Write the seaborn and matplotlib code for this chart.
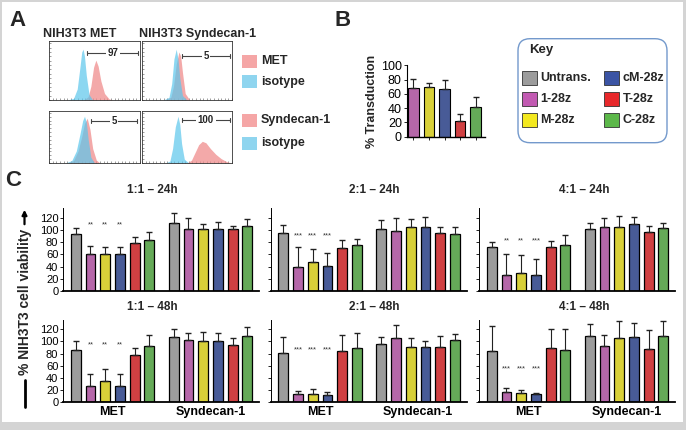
import matplotlib
matplotlib.use('Agg')
import matplotlib.pyplot as plt
from matplotlib.patches import Rectangle, FancyBboxPatch
from matplotlib.ticker import MultipleLocator
import seaborn as sns
import pandas as pd
import numpy as np

sns.set_theme(style='ticks')
plt.rcParams['font.family'] = ['Liberation Sans', 'DejaVu Sans']
plt.rcParams['axes.edgecolor'] = 'black'
plt.rcParams['xtick.color'] = 'black'
plt.rcParams['ytick.color'] = 'black'

# --- Dati ---
car_names = ['Untrans.', '1-28z', 'M-28z', 'cM-28z', 'T-28z', 'C-28z']
car_colors = ['#9c9c9c', '#c25ab2', '#f3e81e', '#3b54a4', '#e8282b', '#5cb84a']

# A: flow histograms (x in 0..1 of the log axis, y relative height)
tl_iso_x = [0.20, 0.27, 0.31, 0.34, 0.36, 0.375, 0.39, 0.41, 0.44, 0.48]
tl_iso_y = [0, 0.03, 0.2, 0.6, 0.88, 0.93, 0.8, 0.45, 0.1, 0]
tl_mk_x = [0.38, 0.43, 0.46, 0.49, 0.515, 0.54, 0.57, 0.61, 0.66, 0.70]
tl_mk_y = [0, 0.06, 0.25, 0.6, 0.73, 0.62, 0.35, 0.12, 0.02, 0]
tr_iso_x = [0.24, 0.30, 0.33, 0.355, 0.38, 0.40, 0.42, 0.45, 0.50]
tr_iso_y = [0, 0.05, 0.3, 0.75, 0.93, 0.75, 0.4, 0.08, 0]
tr_mk_x = [0.26, 0.32, 0.35, 0.38, 0.41, 0.43, 0.45, 0.48, 0.53]
tr_mk_y = [0, 0.05, 0.25, 0.65, 0.88, 0.8, 0.5, 0.12, 0]
bl_iso_x = [0.18, 0.25, 0.30, 0.34, 0.37, 0.39, 0.41, 0.43, 0.46, 0.50]
bl_iso_y = [0, 0.05, 0.25, 0.6, 0.88, 0.97, 0.85, 0.5, 0.12, 0]
bl_mk_x = [0.20, 0.27, 0.32, 0.36, 0.39, 0.42, 0.45, 0.48, 0.52, 0.56]
bl_mk_y = [0, 0.05, 0.25, 0.55, 0.82, 0.93, 0.7, 0.3, 0.06, 0]
br_iso_x = [0.26, 0.31, 0.34, 0.37, 0.40, 0.42, 0.44, 0.47, 0.52]
br_iso_y = [0, 0.04, 0.3, 0.75, 0.97, 0.8, 0.4, 0.08, 0]
br_mk_x = [0.50, 0.55, 0.59, 0.63, 0.67, 0.71, 0.76, 0.82, 0.88, 0.94, 0.99]
br_mk_y = [0, 0.06, 0.22, 0.38, 0.45, 0.42, 0.3, 0.18, 0.09, 0.03, 0]
gate_pct = ['97', '5', '5', '100']

# B: % transduction (solo i CAR)
transduction = [68, 69, 67, 22, 42]
transduction_err = [13, 6, 13, 10, 14]

# C: vitalita', 6 barre su MET poi 6 su Syndecan-1
via_11_24 = [93, 61, 61, 61, 79, 84, 112, 102, 101, 102, 102, 107]
err_11_24 = [10, 13, 11, 11, 10, 12, 15, 18, 8, 11, 5, 11]
via_21_24 = [95, 40, 47, 41, 70, 75, 102, 98, 105, 104, 95, 94]
err_21_24 = [13, 32, 21, 21, 13, 10, 14, 21, 13, 17, 10, 10]
via_41_24 = [72, 27, 30, 27, 72, 76, 102, 105, 104, 110, 96, 103]
err_41_24 = [9, 33, 29, 26, 10, 15, 9, 14, 19, 11, 10, 8]
via_11_48 = [86, 26, 35, 27, 78, 93, 107, 102, 101, 100, 94, 109]
err_11_48 = [14, 20, 20, 20, 11, 17, 13, 12, 15, 14, 11, 14]
via_21_48 = [81, 13, 13, 12, 85, 89, 95, 105, 90, 91, 91, 102]
err_21_48 = [27, 5, 9, 4, 25, 25, 12, 22, 15, 10, 18, 10]
via_41_48 = [85, 16, 15, 13, 89, 86, 109, 92, 105, 107, 87, 109]
err_41_48 = [40, 7, 4, 2, 31, 34, 20, 18, 29, 24, 32, 24]

stars_11_24, star_y_11_24 = ['**', '**', '**'], 108
stars_21_24, star_y_21_24 = ['***', '***', '***'], 90
stars_41_24, star_y_41_24 = ['**', '**', '***'], 82
stars_11_48, star_y_11_48 = ['**', '**', '**'], 94
stars_21_48, star_y_21_48 = ['***', '***', '***'], 86
stars_41_48, star_y_41_48 = ['***', '***', '***'], 54

# --- Figura (coordinate in pixel dall'alto a sinistra) ---
W, H = 686, 430
fig = plt.figure(figsize=(W / 100, H / 100), dpi=100)
fig.patch.set_facecolor('#d4d4d4')
inch = fig.dpi_scale_trans


def rect(x0, y0, x1, y1):
    return [x0 / W, 1 - y1 / H, (x1 - x0) / W, (y1 - y0) / H]


def px(x, y):
    return (x / 100, (H - y) / 100)


fig.add_artist(Rectangle(px(2, 422), 6.81, 4.20, transform=inch,
                         facecolor='white', edgecolor='none', zorder=-10))

for lab, (x, y) in zip('ABC', [(17.5, 20.5), (343, 21), (13, 180)]):
    fig.text(*px(x, y), lab, transform=inch, fontsize=16, fontweight='bold',
             ha='center', va='center')

# --- A: istogrammi ---
pink_h, blue_h = '#f08c8c', '#5cc6ec'
hist_rects = [(49, 41, 140, 100), (142, 41, 232, 100),
              (49, 111, 140, 163), (142, 111, 232, 163)]
hist_data = [(tl_iso_x, tl_iso_y, tl_mk_x, tl_mk_y),
             (tr_iso_x, tr_iso_y, tr_mk_x, tr_mk_y),
             (bl_iso_x, bl_iso_y, bl_mk_x, bl_mk_y),
             (br_iso_x, br_iso_y, br_mk_x, br_mk_y)]
gates = [(0.42, 0.98, 0.86), (0.44, 0.98, 0.81), (0.46, 0.97, 0.87), (0.44, 0.98, 0.90)]

for r, (ix, iy, mx, my), (g0, g1, gy), pct in zip(hist_rects, hist_data, gates, gate_pct):
    ax = fig.add_axes(rect(*r))
    ax.fill_between(mx, my, color=pink_h, alpha=0.75, lw=0)
    ax.fill_between(ix, iy, color=blue_h, alpha=0.7, lw=0)
    ax.plot([g0, g1], [gy, gy], color='#444', lw=0.8)
    for gx in (g0, g1):
        ax.plot([gx, gx], [gy - 0.04, gy + 0.04], color='#444', lw=0.8)
    ax.text((g0 + g1) / 2, gy, pct, ha='center', va='center', fontsize=7,
            fontweight='bold', bbox=dict(facecolor='white', edgecolor='none', pad=1.2))
    ax.set_xlim(0, 1)
    ax.set_ylim(0, 1.08)
    ax.set_xticks([])
    ax.set_yticks([])
    ax.xaxis.set_minor_locator(MultipleLocator(0.04))
    ax.yaxis.set_minor_locator(MultipleLocator(0.08))
    ax.tick_params(which='minor', length=1.5, width=0.4, direction='in', color='#555')
    for s in ax.spines.values():
        s.set_linewidth(0.6)
        s.set_color('#333')

fig.text(*px(80, 34), 'NIH3T3 MET', transform=inch, fontsize=9, fontweight='bold',
         ha='center', va='center')
fig.text(*px(198, 34), 'NIH3T3 Syndecan-1', transform=inch, fontsize=9,
         fontweight='bold', ha='center', va='center')

leg_pink, leg_blue = '#f5a6a6', '#8fd5ef'
for (y, col, txt) in [(61, leg_pink, 'MET'), (81.5, leg_blue, 'isotype'),
                      (120, leg_pink, 'Syndecan-1'), (143, leg_blue, 'isotype')]:
    fig.add_artist(Rectangle(px(241.5, y + 6.5), 0.15, 0.13, transform=inch,
                             facecolor=col, edgecolor='none'))
    fig.text(*px(261, y), txt, transform=inch, fontsize=9, fontweight='bold',
             ha='left', va='center')

# --- B: % transduction ---
ax_b = fig.add_axes(rect(406.7, 65.3, 485, 136.7))
df_b = pd.DataFrame({'car': car_names[1:], 'pct': transduction})
sns.barplot(data=df_b, x='car', y='pct', hue='car', palette=car_colors[1:],
            width=0.68, edgecolor='black', linewidth=0.8, errorbar=None,
            legend=False, ax=ax_b)
ax_b.errorbar(range(5), transduction, yerr=[[0] * 5, transduction_err], fmt='none',
              ecolor='#222', elinewidth=0.8, capsize=2.2)
ax_b.set_ylim(0, 100)
ax_b.set_xlim(-0.43, 4.6)
ax_b.set_yticks(range(0, 101, 20))
ax_b.set_xticklabels([])
ax_b.set_xlabel('')
ax_b.set_ylabel('% Transduction', fontsize=9, fontweight='bold', labelpad=2)
ax_b.tick_params(axis='y', labelsize=9, length=2.5, width=0.6, pad=1)
ax_b.tick_params(axis='x', length=2, width=0.6)
sns.despine(ax=ax_b)
ax_b.spines['left'].set_linewidth(0.8)
ax_b.spines['bottom'].set_linewidth(1.0)

# --- Key ---
fig.add_artist(FancyBboxPatch(px(518, 142.7), 1.49, 1.04,
                              boxstyle='round,pad=0,rounding_size=0.12',
                              transform=inch, facecolor='white',
                              edgecolor='#7399cc', lw=1))
fig.text(*px(529, 50), 'Key', transform=inch, fontsize=9.5, fontweight='bold',
         ha='left', va='center')
key_cols = [(521.7, 540.5), (603.5, 622.5)]
key_rows = [78, 99, 119.7]
for i, (name, col) in enumerate(zip(car_names, car_colors)):
    cx, tx = key_cols[i // 3]
    cy = key_rows[i % 3]
    fig.add_artist(Rectangle(px(cx, cy + 7), 0.15, 0.14, transform=inch,
                             facecolor=col, edgecolor='#333', lw=0.6))
    fig.text(*px(tx, cy), name, transform=inch, fontsize=9, fontweight='bold',
             ha='left', va='center')

# --- C: vitalita' ---
met_pos = np.arange(6)
syn_pos = met_pos + 6.65
bar_pos = np.concatenate([met_pos, syn_pos])
palette = dict(zip(car_names, car_colors))

panels = [('1:1 – 24h', via_11_24, err_11_24, stars_11_24, star_y_11_24),
          ('2:1 – 24h', via_21_24, err_21_24, stars_21_24, star_y_21_24),
          ('4:1 – 24h', via_41_24, err_41_24, stars_41_24, star_y_41_24),
          ('1:1 – 48h', via_11_48, err_11_48, stars_11_48, star_y_11_48),
          ('2:1 – 48h', via_21_48, err_21_48, stars_21_48, star_y_21_48),
          ('4:1 – 48h', via_41_48, err_41_48, stars_41_48, star_y_41_48)]

col_left = [63.2, 270.7, 479.2]
title_x = [152, 374.5, 584.5]
row_y = [(207.9, 291), (319.6, 402)]
title_y = [190, 307]

for k, (title, vals, errs, stars, sy) in enumerate(panels):
    r, c = divmod(k, 3)
    y0, y1 = row_y[r]
    ax = fig.add_axes(rect(col_left[c], y0, col_left[c] + 196, y1))
    df = pd.DataFrame({'pos': bar_pos, 'val': vals, 'car': car_names * 2})
    sns.barplot(data=df, x='pos', y='val', hue='car', palette=palette,
                native_scale=True, width=0.67, dodge=False, edgecolor='black',
                linewidth=0.9, errorbar=None, legend=False, ax=ax)
    ax.errorbar(bar_pos, vals, yerr=[[0] * 12, errs], fmt='none', ecolor='#222',
                elinewidth=0.8, capsize=2.2)
    for p, s in zip(met_pos[1:4], stars):
        ax.text(p, sy, s, ha='center', va='center', fontsize=5.5, color='#333')
    ax.set_xlim(-0.85, 12.45)
    ax.set_ylim(0, 136)
    ax.set_yticks(range(0, 121, 20))
    ax.set_xlabel('')
    ax.set_ylabel('')
    if r == 1:
        ax.set_xticks([met_pos.mean(), syn_pos.mean()])
        ax.set_xticklabels(['MET', 'Syndecan-1'], fontsize=9, fontweight='bold')
    else:
        ax.set_xticks([])
    ax.tick_params(axis='x', length=0, pad=3)
    ax.tick_params(axis='y', labelsize=8, length=2.5, width=0.6, pad=1,
                   labelleft=(c == 0))
    sns.despine(ax=ax)
    ax.spines['left'].set_linewidth(0.7)
    ax.spines['bottom'].set_linewidth(1.3)
    fig.text(*px(title_x[c], title_y[r]), title, transform=inch, fontsize=8.5,
             fontweight='bold', ha='center', va='center')

# etichetta y di C con freccia
fig.text(*px(25, 302), '% NIH3T3 cell viability', transform=inch, rotation=90,
         fontsize=10, fontweight='bold', ha='center', va='center')
fig.add_artist(plt.Line2D([0.25, 0.25], [(H - 407) / 100, (H - 380) / 100],
                          transform=inch, color='black', lw=2))
fig.add_artist(matplotlib.patches.FancyArrowPatch(px(24.5, 227), px(24.5, 207),
                                                  transform=inch, arrowstyle='-|>',
                                                  mutation_scale=7, lw=1.6,
                                                  color='black'))

fig.savefig('out.png', dpi=100, facecolor=fig.get_facecolor())
